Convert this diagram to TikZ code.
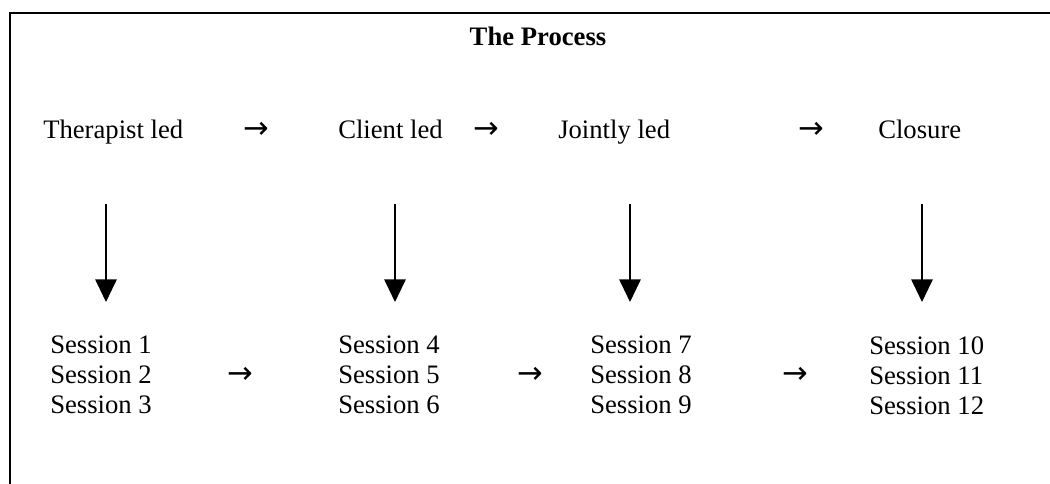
\documentclass[tikz,border=0pt]{standalone}
\usepackage{fontspec}
\setmainfont{Liberation Serif}
\newfontfamily\arrowfont{DejaVu Sans}
\usetikzlibrary{arrows.meta}
\tikzset{
  lbl/.style={anchor=base west, inner sep=0pt, font=\fontsize{20}{23}\selectfont},
  sess/.style={anchor=north west, inner sep=0pt, align=left, font=\fontsize{20}{22.5}\selectfont},
  harrow/.style={anchor=center, inner sep=0pt, font=\arrowfont\fontsize{23}{26}\selectfont},
  varrow/.style={line width=1.5pt, -{Triangle[width=16pt,length=17pt]}},
  frame/.style={line width=1.5pt}
}
\begin{document}
\begin{tikzpicture}[x=0.75pt,y=-0.75pt]
\useasboundingbox (0,0) rectangle (1050,484);
\coordinate (tl) at (10,13);
\coordinate (tr) at (1050,13);
\coordinate (bl) at (10,484);
\draw[frame] (tr) -- (tl) -- (bl);
\node[anchor=base, inner sep=0pt, font=\fontsize{20}{23}\selectfont\bfseries] (title) at (538,46) {The Process};
% top row
\node[lbl] (t1) at (43,139) {Therapist led};
\node[lbl] (t2) at (338,139) {Client led};
\node[lbl] (t3) at (558,139) {Jointly led};
\node[lbl] (t4) at (878,139) {Closure};
\node[harrow] (a1) at (256,130) {→};
\node[harrow] (a2) at (486,130) {→};
\node[harrow] (a3) at (811,130) {→};
% bottom row
\node[sess] (s1) at (50,336) {Session 1\\Session 2\\Session 3};
\node[sess] (s2) at (338,336) {Session 4\\Session 5\\Session 6};
\node[sess] (s3) at (590,336) {Session 7\\Session 8\\Session 9};
\node[sess] (s4) at (869,336) {Session 10\\Session 11\\Session 12};
\node[harrow] (b1) at (240,375) {→};
\node[harrow] (b2) at (530,375) {→};
\node[harrow] (b3) at (795,375) {→};
% vertical arrows
\foreach \i/\x in {1/106,2/395,3/630,4/922}{
  \coordinate (u\i) at (\x,204);
  \coordinate (d\i) at (\x,302);
  \draw[varrow] (u\i) -- (d\i);
}
\end{tikzpicture}
\end{document}
